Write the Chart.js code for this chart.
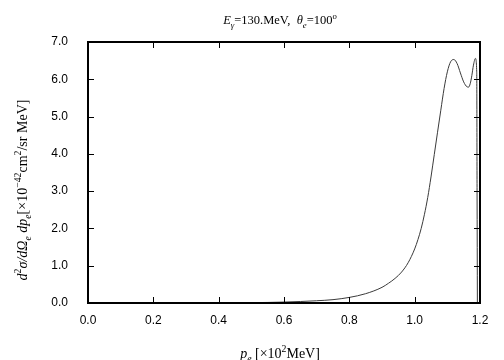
<!DOCTYPE html>
<html>
<head>
<meta charset="utf-8">
<script src="https://cdn.jsdelivr.net/npm/chart.js@4/dist/chart.umd.min.js"></script>
<style>
  html, body { margin: 0; padding: 0; background: #fff; }
  #wrap { width: 504px; height: 360px; }
</style>
</head>
<body>
<div id="wrap"><canvas id="c" width="504" height="360"></canvas></div>
<script>
// electron momentum p_e [x10^2 MeV]
const momentum = [0.0, 0.1, 0.2, 0.3, 0.4, 0.45, 0.5, 0.55, 0.6, 0.65, 0.7, 0.75, 0.8, 0.85,
  0.9, 0.92, 0.94, 0.96, 0.98, 1.0, 1.01, 1.02, 1.03, 1.04, 1.05, 1.06, 1.07, 1.08, 1.09, 1.1,
  1.11, 1.12, 1.13, 1.14, 1.15, 1.16, 1.165, 1.17, 1.175, 1.18, 1.186, 1.19, 1.191, 1.192];
// d2sigma / dOmega_e dp_e [x10^-42 cm^2/sr MeV]
const crossSection = [0.0, 0.0, 0.0, 0.0, 0.002, 0.005, 0.01, 0.015, 0.025, 0.04, 0.06, 0.09, 0.15, 0.25,
  0.42, 0.53, 0.66, 0.83, 1.08, 1.45, 1.7, 2.0, 2.38, 2.83, 3.38, 3.98, 4.58, 5.17, 5.75, 6.2,
  6.47, 6.53, 6.42, 6.17, 5.93, 5.8, 5.79, 5.88, 6.1, 6.38, 6.56, 6.2, 3.0, 0.0];
const xTicks = [0.0, 0.2, 0.4, 0.6, 0.8, 1.0, 1.2];
const yTicks = [0.0, 1.0, 2.0, 3.0, 4.0, 5.0, 6.0, 7.0];

const SERIF = '"Liberation Serif", "DejaVu Serif", serif';
const SANS = '"Liberation Sans", Arial, sans-serif';

// draws a line of text made of pieces: {t, i (italic), sub, sup}
function richWidth(ctx, parts, size) {
  let w = 0;
  parts.forEach(p => {
    const s = (p.sub || p.sup) ? size * 0.7 : size;
    ctx.font = (p.i ? 'italic ' : '') + s + 'px ' + SERIF;
    w += ctx.measureText(p.t).width;
  });
  return w;
}
function richText(ctx, parts, x, y, size) {
  let cx = x;
  parts.forEach(p => {
    const s = (p.sub || p.sup) ? size * 0.7 : size;
    ctx.font = (p.i ? 'italic ' : '') + s + 'px ' + SERIF;
    let dy = 0;
    if (p.sub) dy = size * 0.3;
    if (p.sup) dy = -size * 0.4;
    ctx.fillText(p.t, cx, y + dy);
    cx += ctx.measureText(p.t).width;
  });
}

const titleParts = [
  {t: 'E', i: true}, {t: 'γ', i: true, sub: true}, {t: '=130.MeV,  '},
  {t: 'θ', i: true}, {t: 'e', i: true, sub: true}, {t: '=100'}, {t: 'o', sup: true}
];
const yTitleParts = [
  {t: 'd', i: true}, {t: '2', sup: true}, {t: 'σ/', i: true}, {t: 'd', i: true}, {t: 'Ω', i: true},
  {t: 'e', i: true, sub: true}, {t: ' dp', i: true}, {t: 'e', i: true, sub: true},
  {t: '[×10'}, {t: '−42', sup: true}, {t: 'cm'}, {t: '2', sup: true}, {t: '/sr MeV]'}
];
const xTitleParts = [
  {t: 'p', i: true}, {t: 'e', i: true, sub: true}, {t: ' [×10'}, {t: '2', sup: true}, {t: 'MeV]'}
];

// frame, inward ticks on all four sides, and the serif titles
const framePlugin = {
  id: 'frame',
  afterDraw(chart) {
    const ctx = chart.ctx;
    const a = chart.chartArea;
    const xs = chart.scales.x, ys = chart.scales.y;
    ctx.save();
    ctx.strokeStyle = '#000';
    ctx.lineWidth = 1;
    ctx.beginPath();
    xTicks.forEach(v => {
      const px = Math.round(xs.getPixelForValue(v)) + 0.5;
      ctx.moveTo(px, a.bottom); ctx.lineTo(px, a.bottom - 6);
      ctx.moveTo(px, a.top); ctx.lineTo(px, a.top + 6);
    });
    yTicks.forEach(v => {
      const py = Math.round(ys.getPixelForValue(v)) + 0.5;
      ctx.moveTo(a.left, py); ctx.lineTo(a.left + 6, py);
      ctx.moveTo(a.right, py); ctx.lineTo(a.right - 6, py);
    });
    ctx.stroke();
    ctx.lineWidth = 2;
    ctx.strokeRect(a.left, a.top, a.right - a.left, a.bottom - a.top);

    ctx.fillStyle = '#000';
    ctx.textBaseline = 'alphabetic';
    ctx.textAlign = 'left';
    const cx = (a.left + a.right) / 2;
    let w = richWidth(ctx, titleParts, 12.5);
    richText(ctx, titleParts, cx - w / 2 - 4, 24, 12.5);

    w = richWidth(ctx, xTitleParts, 14);
    richText(ctx, xTitleParts, cx - w / 2 - 4, 358, 14);

    ctx.translate(27, 190);
    ctx.rotate(-Math.PI / 2);
    w = richWidth(ctx, yTitleParts, 14);
    richText(ctx, yTitleParts, -w / 2, 0, 14);
    ctx.restore();
  }
};

new Chart(document.getElementById('c'), {
  type: 'line',
  data: {
    datasets: [{
      data: momentum.map((p, i) => ({x: p, y: crossSection[i]})),
      borderColor: '#3a3a3a',
      borderWidth: 1,
      pointRadius: 0,
      fill: false,
      cubicInterpolationMode: 'monotone'
    }]
  },
  options: {
    responsive: false,
    animation: false,
    layout: { padding: { left: 0, right: 24, top: 42, bottom: 0 } },
    plugins: { legend: { display: false }, tooltip: { enabled: false } },
    scales: {
      x: {
        type: 'linear',
        min: 0, max: 1.2,
        afterBuildTicks: s => { s.ticks = xTicks.map(v => ({value: v})); },
        afterFit: s => { s.height = 57; },
        grid: { display: false, drawTicks: false },
        border: { display: false },
        ticks: {
          color: '#000', padding: 10, maxRotation: 0,
          font: { family: SANS, size: 12 },
          callback: v => v.toFixed(1)
        }
      },
      y: {
        min: 0, max: 7,
        afterBuildTicks: s => { s.ticks = yTicks.map(v => ({value: v})); },
        afterFit: s => { s.width = 88; },
        grid: { display: false, drawTicks: false },
        border: { display: false },
        ticks: {
          color: '#000', padding: 20,
          font: { family: SANS, size: 12 },
          callback: v => v.toFixed(1)
        }
      }
    }
  },
  plugins: [framePlugin]
});
</script>
</body>
</html>
